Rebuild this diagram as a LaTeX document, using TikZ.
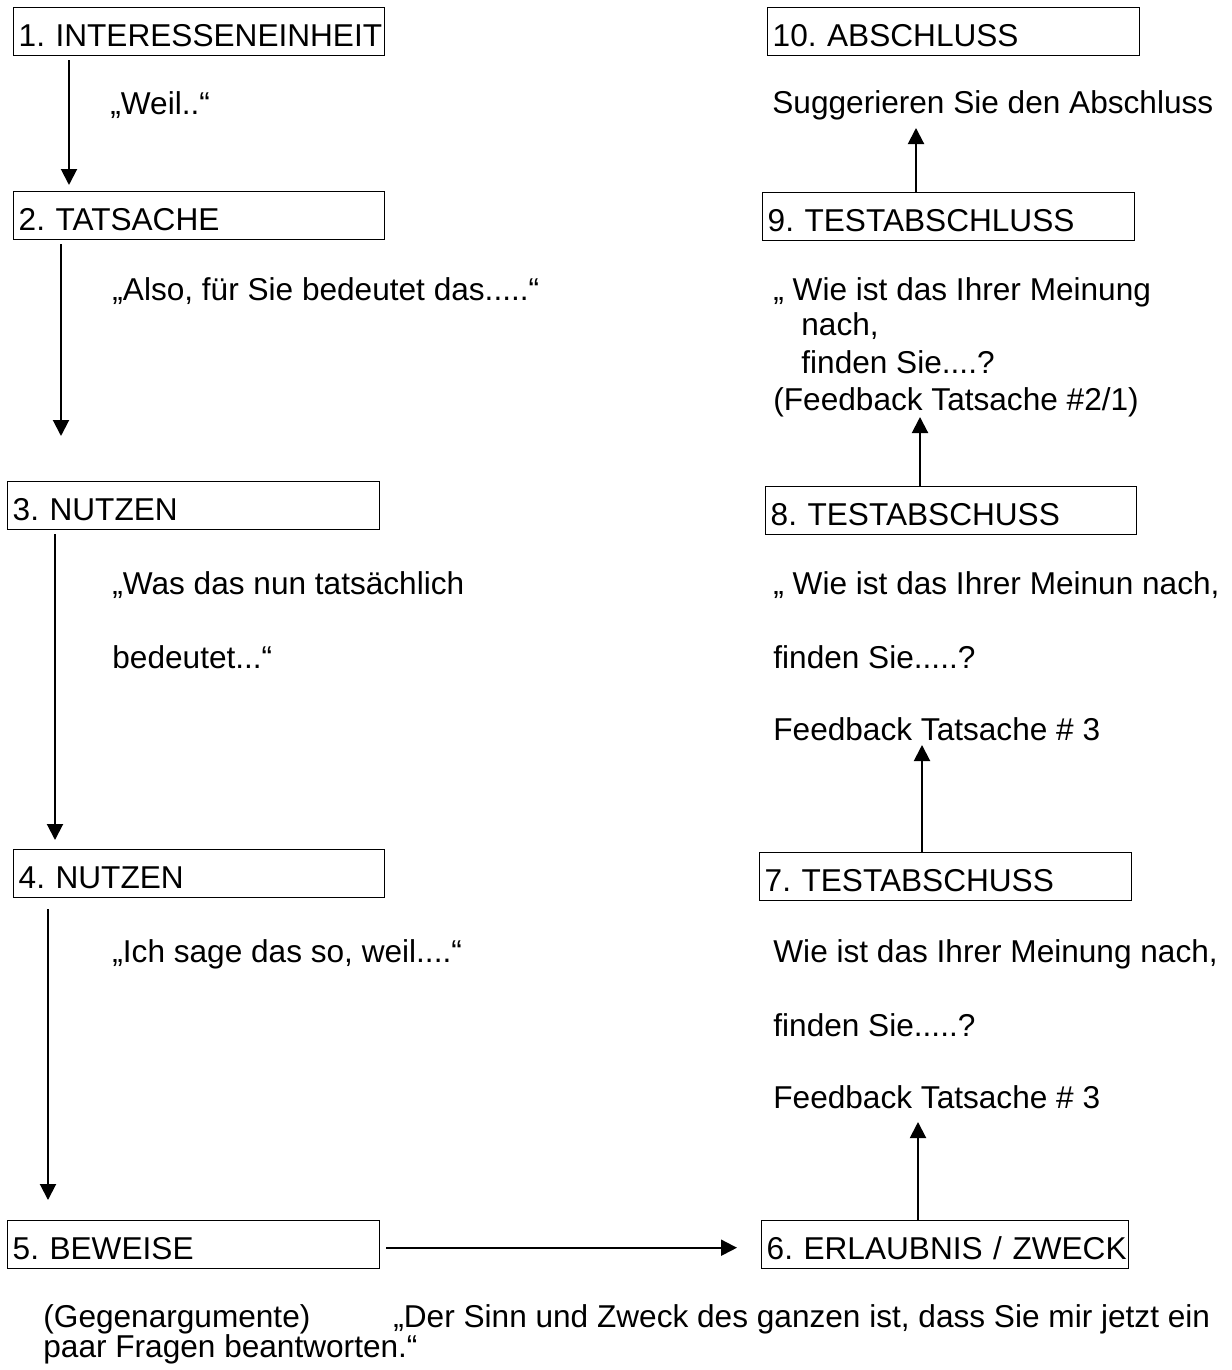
\documentclass[tikz,border=0pt]{standalone}
\usepackage{fontspec}
\setmainfont{Liberation Sans}
\usetikzlibrary{arrows.meta,calc}
\frenchspacing
\begin{document}
\begin{tikzpicture}[x=0.5pt,y=-0.5pt,
  every node/.style={font=\fontsize{15.8pt}{19pt}\selectfont},
  stepbox/.style={draw, line width=0.7pt, anchor=north west, inner xsep=2.5pt, inner ysep=0pt,
                  text height=19.5pt, text depth=4.5pt, align=left},
  lbl/.style={anchor=base west, inner sep=0pt},
  arr/.style={-{Triangle[length=8pt,width=8pt]}, line width=1pt}]
\useasboundingbox (0,0) rectangle (1231,1370);

% left column boxes
\node[stepbox, text width=180.5pt] (b1) at (13,7)    {\mbox{1. INTERESSENEINHEIT}};
\node[stepbox, text width=180.5pt] (b2) at (13,191)  {\mbox{2. TATSACHE}};
\node[stepbox, text width=181pt]   (b3) at (7,481)   {\mbox{3. NUTZEN}};
\node[stepbox, text width=180.5pt] (b4) at (13,849)  {\mbox{4. NUTZEN}};
\node[stepbox, text width=181pt]   (b5) at (7,1220)  {\mbox{5. BEWEISE}};
% right column boxes
\node[stepbox, text width=178.5pt] (b6)  at (761,1220) {\mbox{6. ERLAUBNIS / ZWECK}};
\node[stepbox, text width=181pt]   (b7)  at (759,852)  {\mbox{7. TESTABSCHUSS}};
\node[stepbox, text width=180.5pt] (b8)  at (765,486)  {\mbox{8. TESTABSCHUSS}};
\node[stepbox, text width=181pt]   (b9)  at (762,192)  {\mbox{9. TESTABSCHLUSS}};
\node[stepbox, text width=181pt]   (b10) at (767,7)    {\mbox{10. ABSCHLUSS}};

% left texts
\node[lbl] (t1)  at (110,115) {„Weil..“};
\node[lbl] (t2)  at (112,300) {„Also, für Sie bedeutet das.....“};
\node[lbl] (t3a) at (112,594) {„Was das nun tatsächlich};
\node[lbl] (t3b) at (112,668) {bedeutet...“};
\node[lbl] (t4)  at (112,962) {„Ich sage das so, weil....“};
\node[lbl] (t5a) at (43,1327) {(Gegenargumente)};
\node[lbl] (t5b) at (393,1327) {„Der Sinn und Zweck des ganzen ist, dass Sie mir jetzt ein};
\node[lbl] (t5c) at (43,1357) {paar Fragen beantworten.“};

% right texts
\node[lbl] (t6a) at (773,962)  {Wie ist das Ihrer Meinung nach,};
\node[lbl] (t6b) at (773,1036) {finden Sie.....?};
\node[lbl] (t6c) at (773,1108) {Feedback Tatsache \# 3};
\node[lbl] (t7a) at (773,594)  {„ Wie ist das Ihrer Meinun nach,};
\node[lbl] (t7b) at (773,668)  {finden Sie.....?};
\node[lbl] (t7c) at (773,740)  {Feedback Tatsache \# 3};
\node[lbl] (t8a) at (773,300)  {„ Wie ist das Ihrer Meinung};
\node[lbl] (t8b) at (801,335)  {nach,};
\node[lbl] (t8c) at (801,373)  {finden Sie....?};
\node[lbl] (t8d) at (773,410)  {(Feedback Tatsache \#2/1)};
\node[lbl] (t9)  at (772,113)  {Suggerieren Sie den Abschluss};

% connectors
\draw[arr] ($(b1.south west)+(56,4)$) -- ($(b2.north west)+(56,-6)$);
\draw[arr] ($(b2.south west)+(48,4)$) -- ($(b3.north west)+(54,-45)$);
\draw[arr] ($(b3.south west)+(48,4)$) -- ($(b4.north west)+(42,-9)$);
\draw[arr] ($(b4.south west)+(35,11)$) -- ($(b5.north west)+(41,-20)$);
\draw[arr] ($(b5.east)+(6,3)$) -- ($(b6.west)+(-24,3)$);
\draw[arr] ($(b6.north west)+(157,0)$) -- ($(t6c.base west)+(145,14)$);
\draw[arr] ($(b7.north west)+(163,0)$) -- ($(t7c.base west)+(149,5)$);
\draw[arr] ($(b8.north west)+(155,0)$) -- ($(t8d.base west)+(147,7)$);
\draw[arr] ($(b9.north west)+(154,0)$) -- ($(t9.base west)+(144,15)$);
\end{tikzpicture}
\end{document}
